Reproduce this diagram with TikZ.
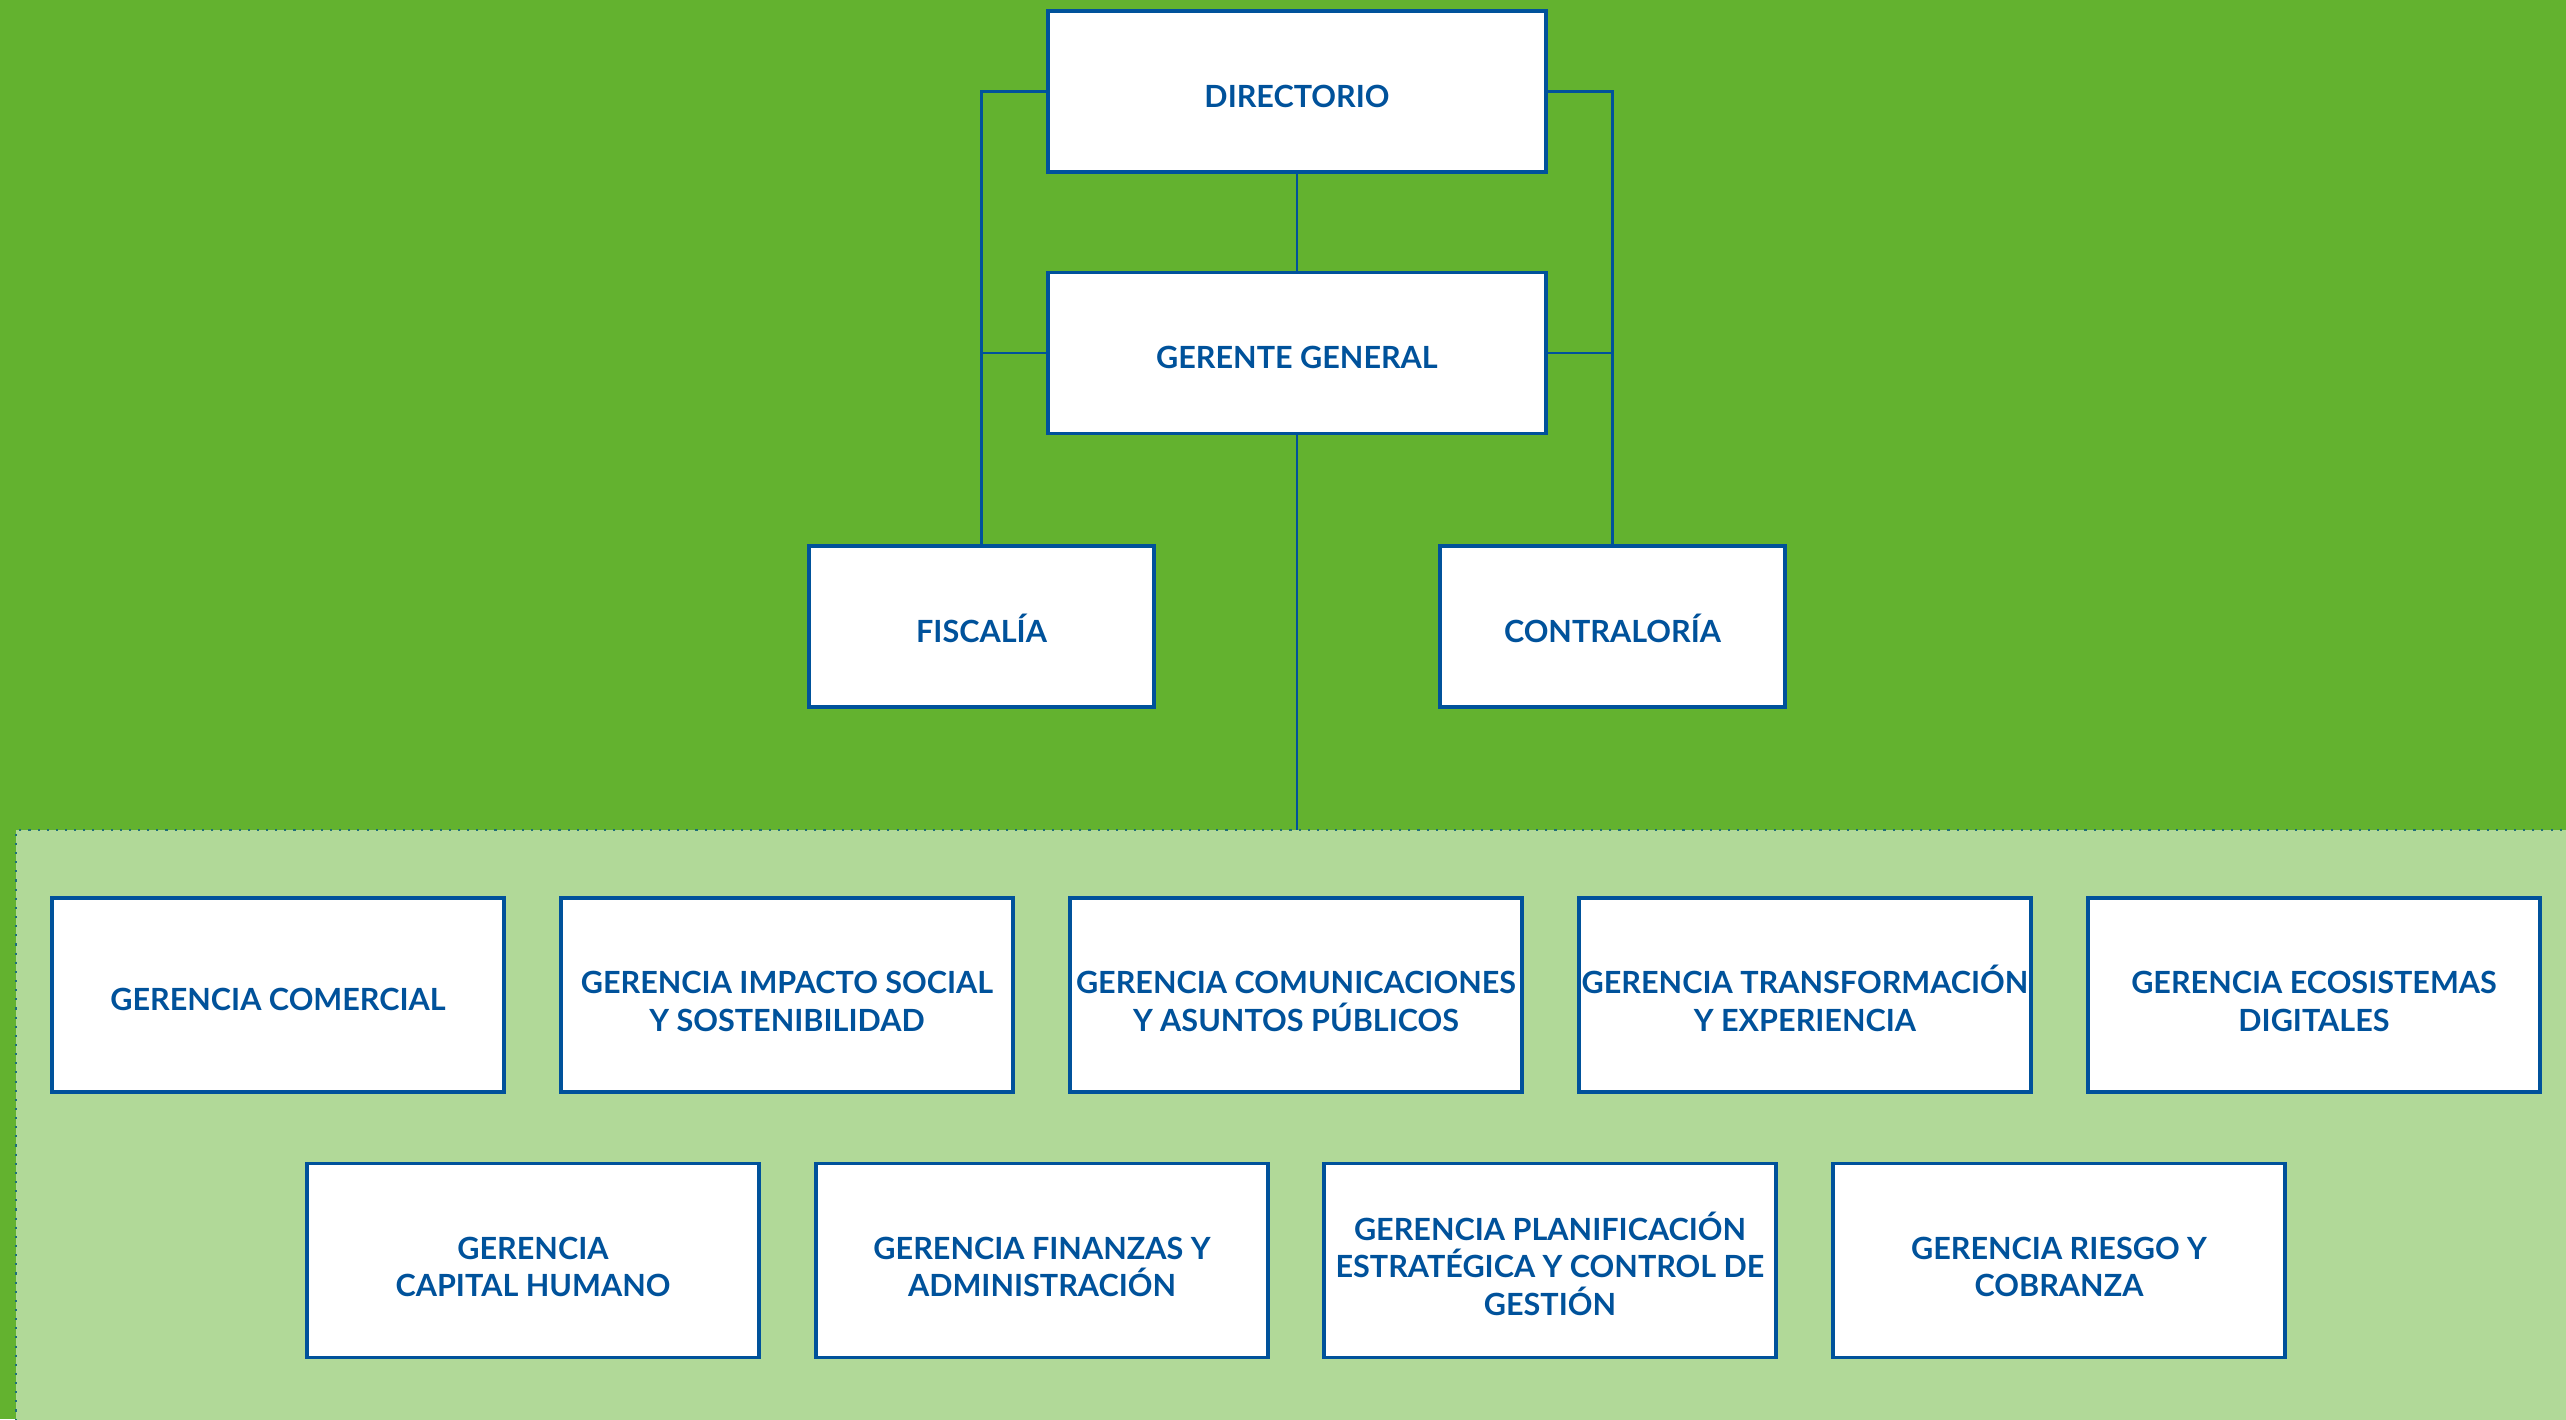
\documentclass[tikz,border=0pt]{standalone}
\usepackage{fontspec}
\setmainfont{Lato}
\definecolor{verde}{HTML}{63B22F}
\definecolor{verdeclaro}{HTML}{B1D998}
\definecolor{azul}{HTML}{00529B}

\begin{document}
\begin{tikzpicture}[font=\bfseries\fontsize{8.7}{10.8}\selectfont, text=azul,
  b/.style={draw=azul, line width=1pt, fill=white, align=center, inner sep=0pt,
    minimum width=4.52cm, minimum height=1.94cm,
    execute at begin node={\rule{0pt}{#1}}},
  b/.default=8.9pt,
  b2/.style={b=20.8pt},
  b3/.style={b=31.6pt},
  jefe/.style={b, minimum width=4.98cm, minimum height=1.61cm},
  ctrl/.style={b, minimum width=3.45cm, minimum height=1.61cm},
  ln/.style={draw=azul, line width=0.6pt}]
  % fondo
  \fill[verde] (0,0) rectangle (25.66,-14.19);
  \useasboundingbox (0,0) rectangle (25.66,-14.19);
  \filldraw[fill=verdeclaro, draw=azul!70!verde, dotted, line width=0.6pt]
    (25.8,-8.30) -- (0.16,-8.30) -- (0.16,-14.3) -- (25.8,-14.3);
  % direccion
  \node[jefe] (dir)  at (12.97,-0.915) {DIRECTORIO};
  \node[jefe] (gg)   at (12.97,-3.53)  {GERENTE GENERAL};
  \node[ctrl] (fis)  at (9.815,-6.265) {FISCALÍA};
  \node[ctrl] (cont) at (16.125,-6.265) {CONTRALORÍA};
  \coordinate (baja) at (12.97,-8.30);
  \draw[ln] (dir) -- (gg);
  \draw[ln] (gg) -- (baja);
  \draw[ln] (dir.west) -| (fis.north);
  \draw[ln] (gg.west) -- (gg.west -| fis.north);
  \draw[ln] (dir.east) -| (cont.north);
  \draw[ln] (gg.east) -- (gg.east -| cont.north);
  % gerencias, fila 1
  \node[b]  (com)  at (2.78,-9.95)  {GERENCIA COMERCIAL};
  \node[b2] (imp)  at (7.87,-9.95)  {GERENCIA IMPACTO SOCIAL\\Y SOSTENIBILIDAD};
  \node[b2] (comu) at (12.96,-9.95) {GERENCIA COMUNICACIONES\\Y ASUNTOS PÚBLICOS};
  \node[b2] (tra)  at (18.05,-9.95) {GERENCIA TRANSFORMACIÓN\\Y EXPERIENCIA};
  \node[b2] (eco)  at (23.14,-9.95) {GERENCIA ECOSISTEMAS\\DIGITALES};
  % gerencias, fila 2
  \node[b2] (cap)  at (5.33,-12.605)  {GERENCIA\\CAPITAL HUMANO};
  \node[b2] (fin)  at (10.42,-12.605) {GERENCIA FINANZAS Y\\ADMINISTRACIÓN};
  \node[b3] (pla)  at (15.50,-12.605) {GERENCIA PLANIFICACIÓN\\ESTRATÉGICA Y CONTROL DE\\GESTIÓN};
  \node[b2] (rie)  at (20.59,-12.605) {GERENCIA RIESGO Y\\COBRANZA};
\end{tikzpicture}
\end{document}
